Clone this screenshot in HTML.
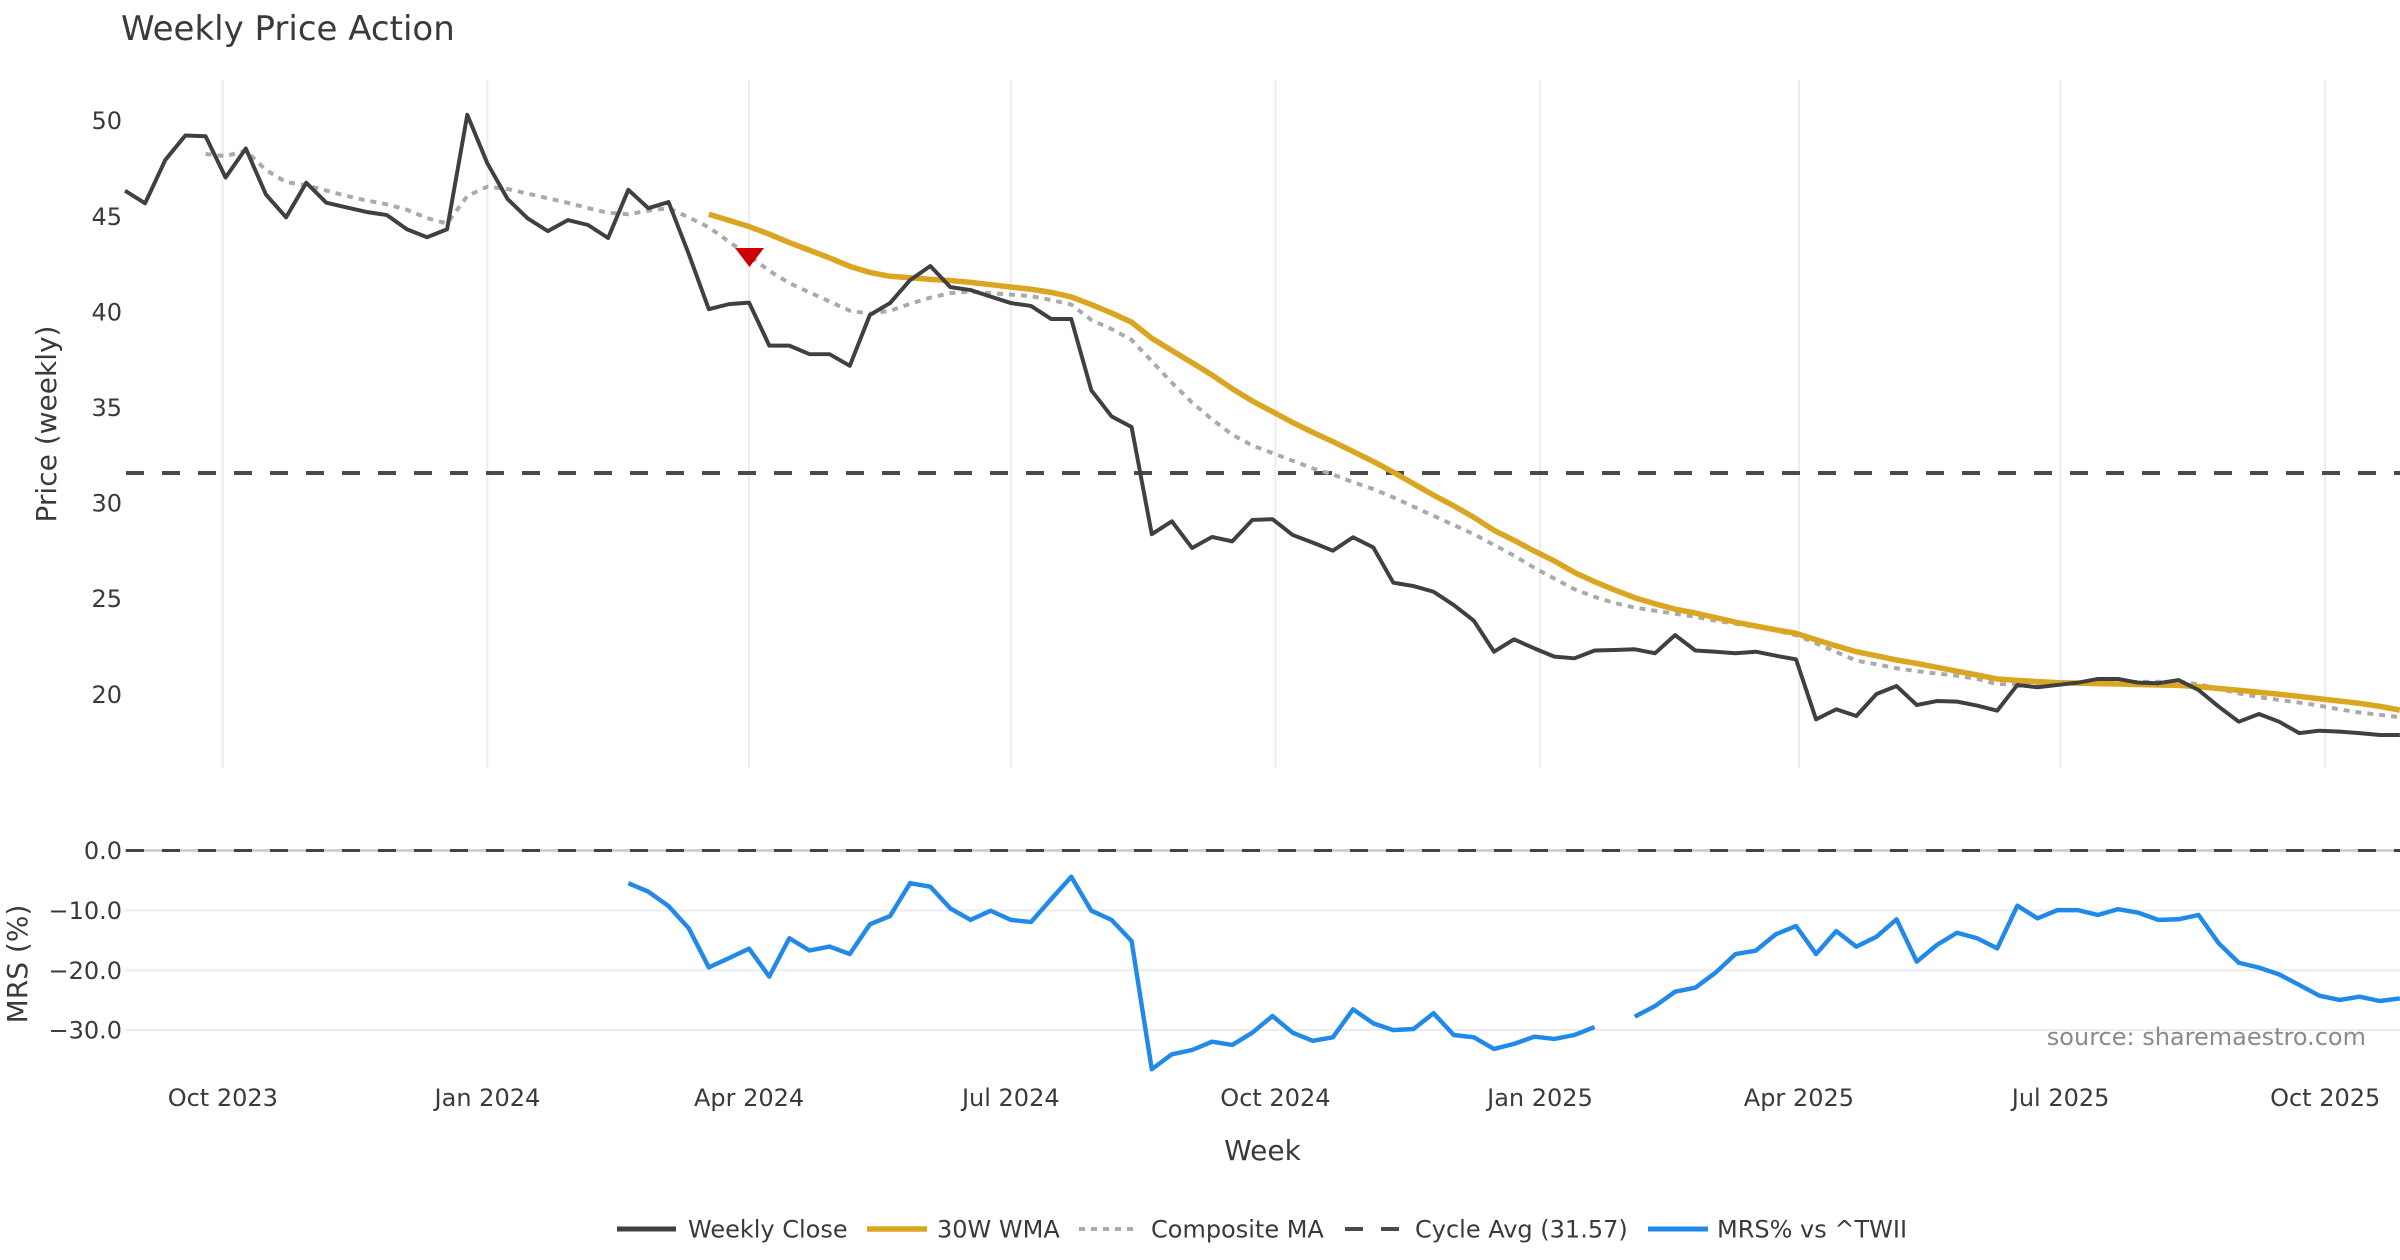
<!DOCTYPE html>
<html>
<head>
<meta charset="utf-8">
<style>
html,body{margin:0;padding:0;background:#fff;}
svg{display:block;}
text{font-family:"DejaVu Sans","Liberation Sans",sans-serif;fill:#3a3a3a;}
</style>
</head>
<body>
<svg width="2400" height="1260" viewBox="0 0 2400 1260" xmlns="http://www.w3.org/2000/svg">
<rect x="0" y="0" width="2400" height="1260" fill="#ffffff"/>

<!-- Title -->
<text x="121" y="40" font-size="34">Weekly Price Action</text>

<!-- Vertical grid (price panel) -->
<g stroke="#ececf0" stroke-width="2">
<line x1="222.8" y1="80" x2="222.8" y2="768"/>
<line x1="487.4" y1="80" x2="487.4" y2="768"/>
<line x1="749.1" y1="80" x2="749.1" y2="768"/>
<line x1="1010.8" y1="80" x2="1010.8" y2="768"/>
<line x1="1275.4" y1="80" x2="1275.4" y2="768"/>
<line x1="1540" y1="80" x2="1540" y2="768"/>
<line x1="1798.9" y1="80" x2="1798.9" y2="768"/>
<line x1="2060.6" y1="80" x2="2060.6" y2="768"/>
<line x1="2325.2" y1="80" x2="2325.2" y2="768"/>
</g>

<!-- MRS horizontal grid -->
<g stroke="#ececf0" stroke-width="2">
<line x1="125" y1="910.5" x2="2400" y2="910.5"/>
<line x1="125" y1="970.3" x2="2400" y2="970.3"/>
<line x1="125" y1="1030" x2="2400" y2="1030"/>
</g>
<!-- MRS zero line -->
<line x1="125" y1="850.5" x2="2400" y2="850.5" stroke="#c8c8c8" stroke-width="2.5"/>
<line x1="126" y1="850.5" x2="2400" y2="850.5" stroke="#444" stroke-width="3" stroke-dasharray="18 18"/>

<!-- Cycle avg line -->
<line x1="126" y1="473" x2="2400" y2="473" stroke="#4a4a4a" stroke-width="4" stroke-dasharray="18 18"/>

<!-- Y tick labels price -->
<g font-size="24" text-anchor="end">
<text x="122" y="129.2">50</text>
<text x="122" y="224.8">45</text>
<text x="122" y="320.4">40</text>
<text x="122" y="416">35</text>
<text x="122" y="511.6">30</text>
<text x="122" y="607.2">25</text>
<text x="122" y="702.8">20</text>
</g>
<!-- Y tick labels MRS -->
<g font-size="24" text-anchor="end">
<text x="122" y="859">0.0</text>
<text x="122" y="919">−10.0</text>
<text x="122" y="978.8">−20.0</text>
<text x="122" y="1038.5">−30.0</text>
</g>

<!-- Axis titles -->
<text font-size="28" text-anchor="middle" transform="translate(56,424) rotate(-90)">Price (weekly)</text>
<text font-size="28" text-anchor="middle" transform="translate(27,964) rotate(-90)">MRS (%)</text>

<!-- X tick labels -->
<g font-size="24" text-anchor="middle">
<text x="222.8" y="1106">Oct 2023</text>
<text x="487.4" y="1106">Jan 2024</text>
<text x="749.1" y="1106">Apr 2024</text>
<text x="1010.8" y="1106">Jul 2024</text>
<text x="1275.4" y="1106">Oct 2024</text>
<text x="1540" y="1106">Jan 2025</text>
<text x="1798.9" y="1106">Apr 2025</text>
<text x="2060.6" y="1106">Jul 2025</text>
<text x="2325.2" y="1106">Oct 2025</text>
</g>
<text x="1262.5" y="1160" font-size="28" text-anchor="middle">Week</text>

<!-- Series (perceived coords scaled) -->
<g transform="scale(1.5306)" fill="none" stroke-linejoin="round">
<!-- Composite MA -->
<polyline stroke="#aaaaaa" stroke-width="2.6" stroke-dasharray="3.9 3.9" points="134.3,100.6 147.4,102 160.6,98.4 173.7,111 186.9,119 200.1,121 213.2,124.5 226.4,128 239.5,131 252.7,133.5 265.8,137 279.0,142.5 292.1,146 305.3,128 318.4,122 331.6,123.5 344.7,126.5 357.9,129.5 371.0,132.5 384.2,136 397.3,139 410.5,140 423.6,137.6 436.8,136 450.0,142 463.1,148.5 476.3,158 489.4,167 502.6,177 515.7,185 528.9,191 542.0,197 555.2,203 568.3,205 581.5,203 594.6,198.5 607.8,194.5 620.9,191.5 634.1,190.5 647.3,191.5 660.4,192.5 673.6,193.5 686.7,196 699.9,199 713.0,209 726.2,215 739.3,222 752.5,236 765.6,250 778.8,263 791.9,274 805.1,284 818.2,291 831.4,296 844.5,301 857.7,306 870.8,310 884.0,315 897.2,319.5 910.3,325 923.5,331 936.6,337 949.8,343 962.9,349 976.1,356 989.2,363 1002.4,371 1015.5,378 1028.7,385 1041.8,390 1055.0,394 1068.1,397 1081.3,399 1094.4,401 1107.6,403 1120.8,405.5 1133.9,407.5 1147.1,409.5 1160.2,412 1173.4,415 1186.5,420.3 1199.7,426 1212.8,431.6 1226.0,434 1239.1,436.6 1252.3,438.5 1265.4,440 1278.6,441.5 1291.7,443.5 1304.9,447 1318.0,447 1331.2,446.8 1344.3,446.4 1357.5,446 1370.7,445.8 1383.8,445.6 1397.0,445.5 1410.1,445.4 1423.3,445.4 1436.4,447 1449.6,450 1462.7,453 1475.9,455.5 1489.0,457.3 1502.2,459 1515.3,461 1528.5,463.5 1541.6,465.5 1554.8,467 1567.9,468.6"/>
<!-- 30W WMA -->
<polyline stroke="#daa520" stroke-width="3.6" points="463.1,140 476.3,144 489.4,148 502.6,153 515.7,158.5 528.9,163.5 542.0,168.5 555.2,174 568.3,178 581.5,180.5 594.6,181.5 607.8,182.5 620.9,183.3 634.1,184.5 647.3,186 660.4,187.5 673.6,189 686.7,191 699.9,194 713.0,199 726.2,204.5 739.3,210.5 752.5,221 765.6,229 778.8,237 791.9,245 805.1,254 818.2,262 831.4,269 844.5,276 857.7,282.5 870.8,288.5 884.0,295 897.2,301.5 910.3,308.5 923.5,316 936.6,323.5 949.8,330.5 962.9,338 976.1,346.5 989.2,353 1002.4,360 1015.5,366.5 1028.7,374 1041.8,380 1055.0,385.5 1068.1,390.5 1081.3,394.5 1094.4,398 1107.6,400.5 1120.8,403.5 1133.9,406.5 1147.1,409 1160.2,411.5 1173.4,413.8 1186.5,418 1199.7,422 1212.8,425.8 1226.0,428.5 1239.1,431.2 1252.3,433.5 1265.4,436 1278.6,438.5 1291.7,441 1304.9,443.6 1318.0,444.5 1331.2,445.3 1344.3,446 1357.5,446.3 1370.7,446.6 1383.8,446.9 1397.0,447.2 1410.1,447.5 1423.3,447.8 1436.4,448.6 1449.6,449.8 1462.7,451 1475.9,452.3 1489.0,453.6 1502.2,455 1515.3,456.5 1528.5,458 1541.6,459.5 1554.8,461.5 1567.9,463.9"/>
<!-- Weekly Close -->
<polyline stroke="#404040" stroke-width="2.6" points="81.7,124.6 94.8,132.8 108.0,104.5 121.1,88.5 134.3,89 147.4,116 160.6,97 173.7,127 186.9,142 200.1,119.4 213.2,132.4 226.4,135.5 239.5,138.5 252.7,140.5 265.8,149.8 279.0,155 292.1,149.8 305.3,75 318.4,106.7 331.6,130 344.7,142.6 357.9,151 371.0,143.8 384.2,147 397.3,155.5 410.5,124 423.6,136 436.8,132 450.0,166 463.1,202 476.3,198.7 489.4,197.7 502.6,225.8 515.7,225.8 528.9,231.4 542.0,231.4 555.2,239 568.3,205.8 581.5,198 594.6,183 607.8,173.8 620.9,187.6 634.1,189.5 647.3,193.8 660.4,198 673.6,199.9 686.7,208.4 699.9,208.4 713.0,255 726.2,272 739.3,279 752.5,349 765.6,340.6 778.8,358 791.9,350.8 805.1,353.7 818.2,339.7 831.4,339.2 844.5,349.5 857.7,354.5 870.8,359.8 884.0,351 897.2,357.6 910.3,380.7 923.5,382.9 936.6,386.6 949.8,395.3 962.9,405.5 976.1,425.8 989.2,417.7 1002.4,423.6 1015.5,429 1028.7,430.1 1041.8,425 1055.0,424.7 1068.1,424.2 1081.3,426.8 1094.4,414.9 1107.6,425 1120.8,425.8 1133.9,426.8 1147.1,425.8 1160.2,428.4 1173.4,430.8 1186.5,470 1199.7,463.4 1212.8,467.8 1226.0,453.4 1239.1,448.2 1252.3,460.6 1265.4,458 1278.6,458.4 1291.7,461 1304.9,464.3 1318.0,447.5 1331.2,449 1344.3,447.5 1357.5,446 1370.7,443.6 1383.8,443.6 1397.0,446 1410.1,446.4 1423.3,444.3 1436.4,450.8 1449.6,461.7 1462.7,471.5 1475.9,466.5 1489.0,471.5 1502.2,479 1515.3,477.4 1528.5,478 1541.6,479 1554.8,480.2 1567.9,480.2"/>
<!-- MRS -->
<polyline stroke="#2189e8" stroke-width="2.9" points="410.5,577 423.6,582.6 436.8,592 450.0,606.5 463.1,632 476.3,626 489.4,619.8 502.6,638 515.7,613 528.9,621 542.0,618.4 555.2,623.3 568.3,603.9 581.5,598.5 594.6,577 607.8,579.3 620.9,593.5 634.1,601 647.3,595 660.4,601 673.6,602.4 686.7,587.5 699.9,572.8 713.0,595 726.2,601 739.3,614.8 752.5,698.6 765.6,688.8 778.8,686 791.9,680.6 805.1,682.7 818.2,674.7 831.4,663.8 844.5,674.7 857.7,680 870.8,677.7 884.0,659.4 897.2,668.6 910.3,673 923.5,672.3 936.6,662 949.8,676.2 962.9,677.7 976.1,685.3 989.2,682 1002.4,677.3 1015.5,678.8 1028.7,676.2 1041.8,671"/>
<polyline stroke="#2189e8" stroke-width="2.9" points="1068.1,664.2 1081.3,657.3 1094.4,647.9 1107.6,645.3 1120.8,635.5 1133.9,623.3 1147.1,621.1 1160.2,610.4 1173.4,605 1186.5,623.3 1199.7,608.3 1212.8,618.5 1226.0,612 1239.1,600.6 1252.3,628.3 1265.4,617.4 1278.6,609.4 1291.7,613 1304.9,619.6 1318.0,591.7 1331.2,600 1344.3,594.6 1357.5,594.6 1370.7,597.8 1383.8,594 1397.0,596.3 1410.1,601 1423.3,600.6 1436.4,597.8 1449.6,616.3 1462.7,629 1475.9,632.2 1489.0,636.6 1502.2,643.5 1515.3,650.5 1528.5,653.3 1541.6,651.2 1554.8,654 1567.9,652.3"/>
</g>

<!-- Red triangle marker -->
<polygon points="735,248 764,248 749.5,267" fill="#cc0000"/>

<!-- Source annotation -->
<text x="2366" y="1045" font-size="24" text-anchor="end" style="fill:#8a8a8a">source: sharemaestro.com</text>

<!-- Legend -->
<g>
<line x1="617" y1="1229" x2="676" y2="1229" stroke="#404040" stroke-width="5"/>
<text x="688" y="1237.5" font-size="24">Weekly Close</text>
<line x1="867" y1="1229" x2="927" y2="1229" stroke="#daa520" stroke-width="5.5"/>
<text x="937" y="1237.5" font-size="24">30W WMA</text>
<line x1="1079" y1="1229" x2="1137" y2="1229" stroke="#aaaaaa" stroke-width="4" stroke-dasharray="6 6"/>
<text x="1151" y="1237.5" font-size="24">Composite MA</text>
<line x1="1345" y1="1229" x2="1400" y2="1229" stroke="#4a4a4a" stroke-width="4" stroke-dasharray="18 18"/>
<text x="1415" y="1237.5" font-size="24">Cycle Avg (31.57)</text>
<line x1="1648" y1="1229" x2="1708" y2="1229" stroke="#2189e8" stroke-width="5"/>
<text x="1717" y="1237.5" font-size="24">MRS% vs ^TWII</text>
</g>
</svg>
</body>
</html>
